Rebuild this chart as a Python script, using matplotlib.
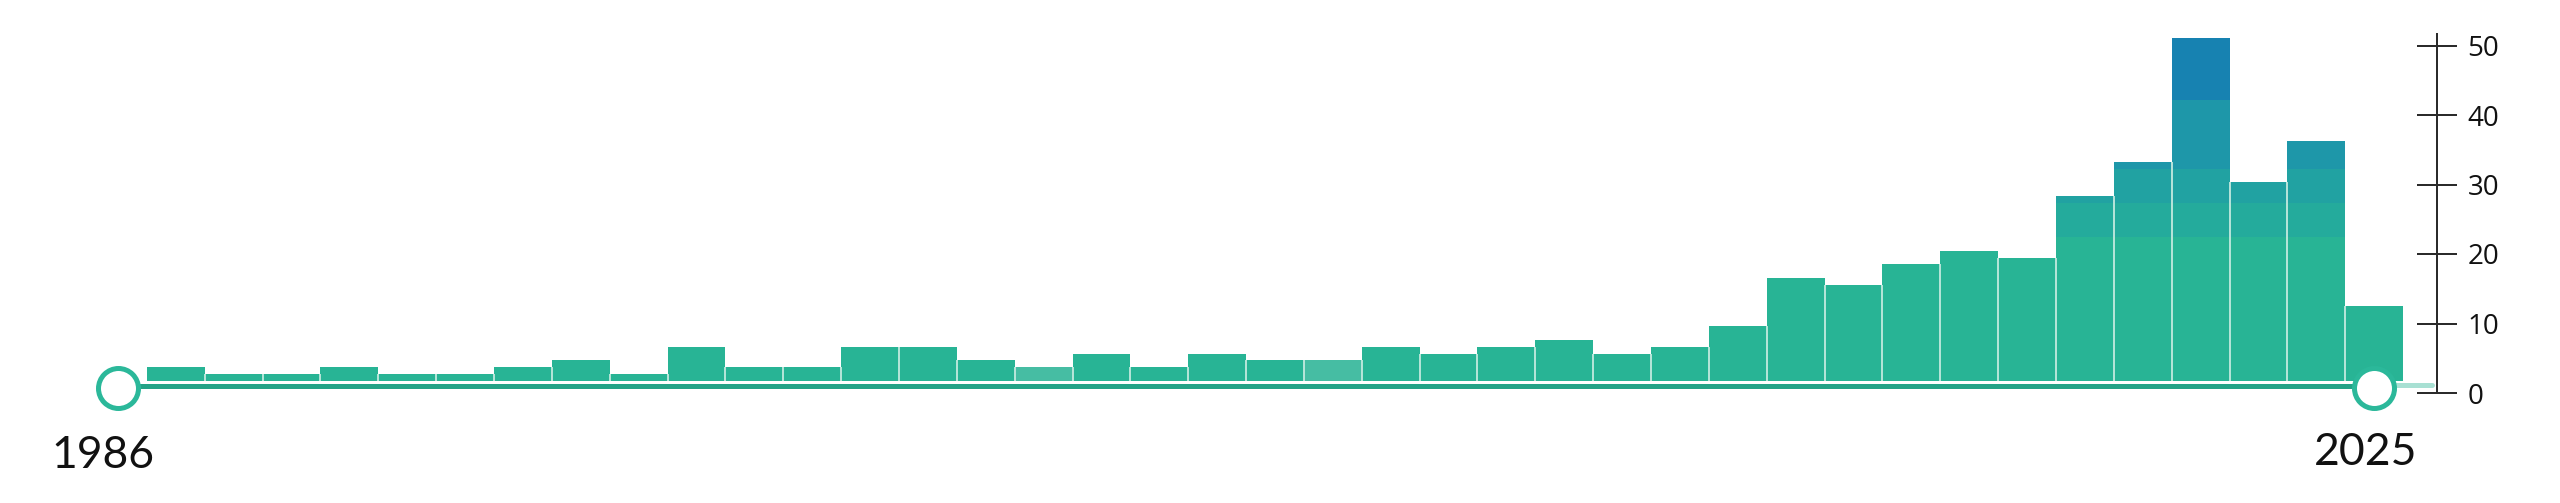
import numpy as np
import matplotlib.pyplot as plt

# --- data -------------------------------------------------------------
years = list(range(1986, 2026))
counts = [
    0, 2, 1, 1, 2, 1, 1, 2, 3, 1,
    5, 2, 2, 5, 5, 3, 2, 4, 2, 4,
    3, 3, 5, 4, 5, 6, 4, 5, 8, 15,
    14, 17, 19, 18, 27, 32, 50, 29, 35, 11,
]
light_years = [2002, 2007]          # bars drawn in the paler tint
y_ticks = [0, 10, 20, 30, 40, 50]

# colour bands by height (green -> blue)
band_edges = [0, 21, 26, 31, 41, 60]
band_colors = ["#28b495", "#24ab9c", "#21a2a2", "#1e97a9", "#1782b1"]

# --- layout (pixels of a 2560x503 canvas) ----------------------------
W, H = 2560, 503
px_year = 57.85          # width of one year
x_first = 118            # pixel centre of the first year
base_px = 381            # bar baseline
px_unit = 6.854          # bar pixels per count
axis_zero_px = 393       # right axis: pixel of 0
axis_px_unit = 6.95
axis_x_px = 2437

fig = plt.figure(figsize=(W / 100, H / 100), dpi=100)
ax = fig.add_axes([0, 0, 1, 1])
ax.set_xlim(years[0] - x_first / px_year, years[0] + (W - x_first) / px_year)
ax.set_ylim((base_px - H) / px_unit, base_px / px_unit)
ax.axis("off")

yrs = np.array(years)
vals = np.array(counts, dtype=float)

# stacked colour bands
for (lo, hi), col in zip(zip(band_edges[:-1], band_edges[1:]), band_colors):
    seg = np.clip(vals, lo, hi) - lo
    cols = [col] * len(yrs)
    if lo == 0:
        cols = ["#46bda3" if y in light_years else col for y in yrs]
    ax.bar(yrs, seg, bottom=lo, width=1.0, color=cols, linewidth=0, zorder=2)

# thin light separators between neighbouring bars
sep_h = np.minimum(vals[:-1], vals[1:])
ax.vlines(yrs[:-1] + 0.5, 0, sep_h, color="#c4eadf", lw=1.3, zorder=3)

# slider track and handles
track_y = (base_px - 385.8) / px_unit
handle_y = (base_px - 387.5) / px_unit
ax.plot([years[0], years[-1]], [track_y, track_y], color="#23a387",
        lw=3.6, solid_capstyle="butt", zorder=3)
ax.plot([years[-1], years[-1] + 1.0], [track_y + 0.15] * 2, color="#a8e0d3",
        lw=3.6, solid_capstyle="round", zorder=3)
ax.plot([years[0], years[-1]], [handle_y, handle_y], "o", ms=28.8,
        mfc="white", mec="#2bb89a", mew=3.6, zorder=5)

ax.annotate(str(years[0]), xy=(years[0], handle_y), xytext=(-10.8, -58),
            textcoords="offset points", ha="center", va="baseline",
            fontsize=32, family="Lato", color="#111111")
ax.annotate(str(years[-1]), xy=(years[-1], handle_y), xytext=(-5.8, -55.8),
            textcoords="offset points", ha="center", va="baseline",
            fontsize=32, family="Lato", color="#111111")

# right-hand count axis
ax2 = ax.twinx()
ax2.set_ylim((axis_zero_px - H) / axis_px_unit, axis_zero_px / axis_px_unit)
for s in ["top", "bottom", "left"]:
    ax2.spines[s].set_visible(False)
ax2.spines["right"].set_position(("axes", axis_x_px / W))
ax2.spines["right"].set_bounds(0, (axis_zero_px - 34) / axis_px_unit)
ax2.spines["right"].set_linewidth(1.44)
ax2.spines["right"].set_color("#2b2b2b")
ax2.set_yticks(y_ticks)
ax2.set_yticklabels([str(t) for t in y_ticks], family="Open Sans")
ax2.tick_params(axis="y", direction="inout", length=29.5, width=1.44,
                pad=7.2, labelsize=20, color="#2b2b2b", labelcolor="#111111")

fig.savefig("out.png", dpi=100, facecolor="white")
